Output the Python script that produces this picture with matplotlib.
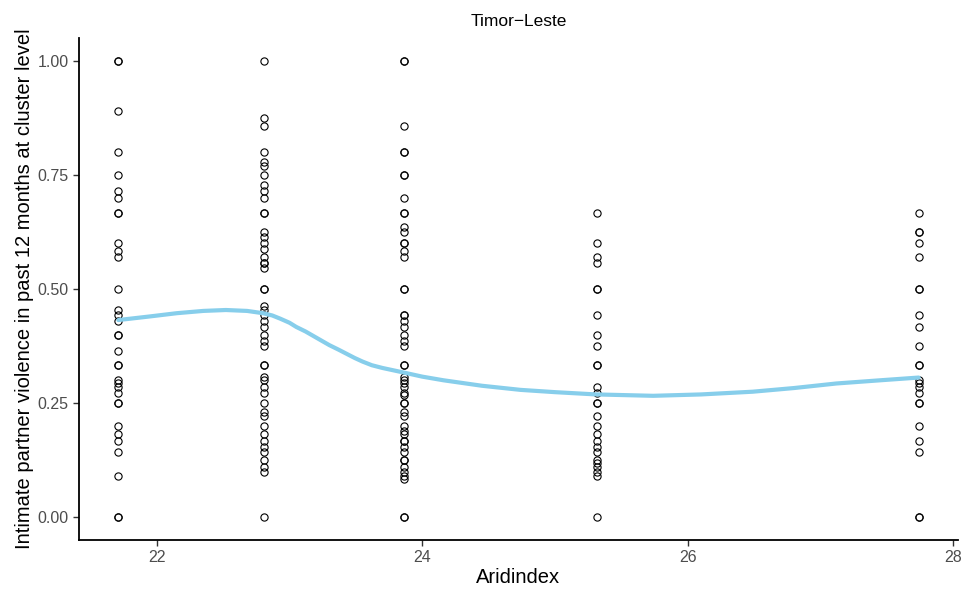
import numpy as np
import matplotlib
matplotlib.use("Agg")
import matplotlib.pyplot as plt

plt.rcParams['font.family'] = ['Liberation Sans', 'DejaVu Sans']

# aridity index of each cluster group
aridindex = [21.71, 22.81, 23.86, 25.32, 27.74]

# cluster level IPV prevalence, one list per aridity value (repeats = overlapping points)
ipv_2171 = [1.0, 1.0, 0.889, 0.8, 0.75, 0.714, 0.7, 0.667, 0.667, 0.6, 0.583, 0.571,
            0.5, 0.455, 0.444, 0.429, 0.4, 0.4, 0.364, 0.333, 0.333, 0.3, 0.294,
            0.286, 0.273, 0.25, 0.25, 0.2, 0.182, 0.167, 0.143, 0.091, 0.0, 0.0]
ipv_2281 = [1.0, 0.875, 0.857, 0.8, 0.778, 0.769, 0.75, 0.727, 0.714, 0.7, 0.667,
            0.667, 0.625, 0.615, 0.6, 0.588, 0.571, 0.556, 0.556, 0.545, 0.5, 0.5,
            0.462, 0.455, 0.444, 0.429, 0.417, 0.4, 0.385, 0.375, 0.333, 0.333,
            0.308, 0.3, 0.286, 0.273, 0.25, 0.231, 0.222, 0.2, 0.182, 0.167, 0.154,
            0.143, 0.125, 0.111, 0.1, 0.0]
ipv_2386 = [1.0, 1.0, 0.857, 0.8, 0.8, 0.75, 0.75, 0.7, 0.667, 0.667, 0.636, 0.625,
            0.6, 0.6, 0.583, 0.571, 0.5, 0.5, 0.444, 0.444, 0.429, 0.417, 0.4,
            0.385, 0.375, 0.333, 0.333, 0.308, 0.3, 0.294, 0.286, 0.273, 0.267,
            0.25, 0.25, 0.231, 0.222, 0.2, 0.188, 0.182, 0.167, 0.167, 0.154,
            0.143, 0.125, 0.125, 0.111, 0.1, 0.091, 0.083, 0.0, 0.0]
ipv_2532 = [0.667, 0.6, 0.571, 0.556, 0.5, 0.5, 0.444, 0.4, 0.375, 0.333, 0.333,
            0.286, 0.273, 0.25, 0.25, 0.222, 0.2, 0.182, 0.167, 0.154, 0.143,
            0.125, 0.118, 0.111, 0.1, 0.091, 0.0]
ipv_2774 = [0.667, 0.625, 0.625, 0.6, 0.571, 0.5, 0.5, 0.444, 0.417, 0.375, 0.333,
            0.333, 0.3, 0.294, 0.286, 0.273, 0.25, 0.25, 0.2, 0.167, 0.143, 0.0, 0.0]

# loess smooth
smooth_x = [21.71, 21.95, 22.15, 22.35, 22.52, 22.68, 22.80, 22.87, 22.93, 23.0,
            23.05, 23.12, 23.18, 23.24, 23.30, 23.37, 23.43, 23.49, 23.55, 23.62,
            23.70, 23.78, 23.86, 24.0, 24.16, 24.45, 24.74, 25.0, 25.31, 25.74,
            26.1, 26.49, 26.8, 27.12, 27.45, 27.74]
smooth_y = [0.432, 0.440, 0.447, 0.452, 0.454, 0.452, 0.447, 0.442, 0.435, 0.426,
            0.417, 0.407, 0.397, 0.387, 0.377, 0.367, 0.358, 0.349, 0.341, 0.333,
            0.327, 0.322, 0.317, 0.308, 0.300, 0.288, 0.279, 0.274, 0.269, 0.266,
            0.269, 0.275, 0.283, 0.293, 0.300, 0.306]

groups = [ipv_2171, ipv_2281, ipv_2386, ipv_2532, ipv_2774]
xs = np.concatenate([[a] * len(g) for a, g in zip(aridindex, groups)])
ys = np.concatenate(groups)

fig = plt.figure(figsize=(9.67, 5.92), dpi=100)
ax = fig.add_axes([0.0812, 0.0878, 0.910, 0.848])

ax.plot(xs, ys, linestyle='none', marker='o', markersize=5.2,
        markerfacecolor='none', markeredgecolor='black', markeredgewidth=0.8)
ax.plot(smooth_x, smooth_y, color='#87CEEB', linewidth=3, solid_capstyle='round',
        solid_joinstyle='round')

ax.set_xlim(21.41, 28.04)
ax.set_ylim(-0.05, 1.05)
ax.set_xticks([22, 24, 26, 28])
ax.set_yticks([0, 0.25, 0.5, 0.75, 1.0])
ax.set_yticklabels(['0.00', '0.25', '0.50', '0.75', '1.00'])

for s in ['top', 'right']:
    ax.spines[s].set_visible(False)
for s in ['left', 'bottom']:
    ax.spines[s].set_linewidth(1.3)
ax.tick_params(length=4, width=1, color='#333333', labelcolor='#4D4D4D',
               labelsize=11.5, pad=3)

ax.set_title('Timor\u2212Leste', fontsize=12.5, pad=9)
ax.set_xlabel('Aridindex', fontsize=14.5, labelpad=2)
ax.set_ylabel('Intimate partner violence in past 12 months at cluster level',
              fontsize=14.5, labelpad=3)

fig.savefig('out.png', dpi=100)
